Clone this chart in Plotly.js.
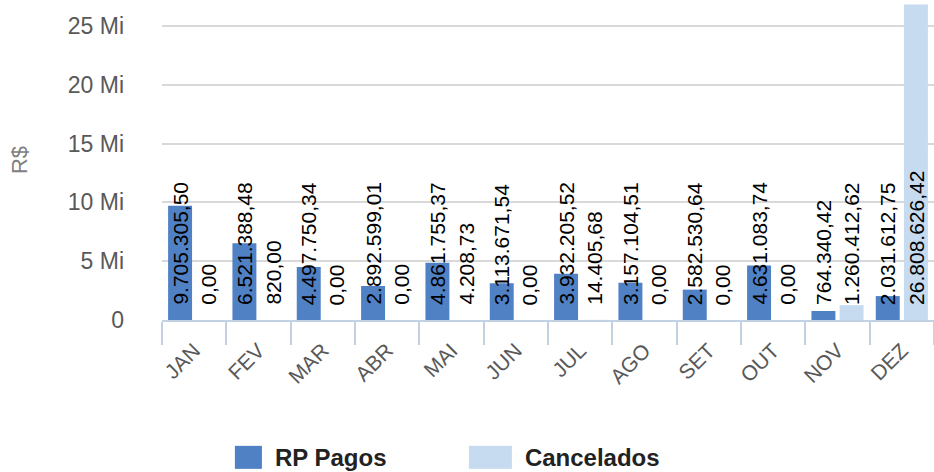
<!DOCTYPE html>
<html>
<head>
<meta charset="utf-8">
<script src="https://cdn.plot.ly/plotly-3.0.1.min.js"></script>
<style>html,body{margin:0;padding:0;background:#fff;}#chart{width:934px;height:472px;}</style>
</head>
<body>
<div id="chart"></div>
<script>
const months = ["JAN","FEV","MAR","ABR","MAI","JUN","JUL","AGO","SET","OUT","NOV","DEZ"];
const rpPagos = [9705305.50, 6521388.48, 4497750.34, 2892599.01, 4861755.37, 3113671.54, 3932205.52, 3157104.51, 2582530.64, 4631083.74, 764340.42, 2031612.75];
const cancelados = [0, 820.00, 0, 0, 4208.73, 0, 14405.68, 0, 0, 0, 1260412.62, 26808626.42];
const yTickVals = [0, 5000000, 10000000, 15000000, 20000000, 25000000];
const yTickText = ["0", "5 Mi", "10 Mi", "15 Mi", "20 Mi", "25 Mi"];

function fmtBR(v) {
  const parts = v.toFixed(2).split(".");
  parts[0] = parts[0].replace(/\B(?=(\d{3})+(?!\d))/g, ".");
  return parts[0] + "," + parts[1];
}

const bargap = 0.124;
const off = (1 - bargap) / 4;
const FONT = "Liberation Sans, Arial, sans-serif";

const annotations = [];
months.forEach((m, i) => {
  annotations.push({x: i - off, y: 0, xref: "x", yref: "y", text: fmtBR(rpPagos[i]), textangle: -90,
    showarrow: false, yanchor: "bottom", xanchor: "center", yshift: 13, font: {family: FONT, size: 21, color: "#000"}});
  annotations.push({x: i + off, y: 0, xref: "x", yref: "y", text: fmtBR(cancelados[i]), textangle: -90,
    showarrow: false, yanchor: "bottom", xanchor: "center", yshift: 13, font: {family: FONT, size: 21, color: "#000"}});
});

const data = [
  {type: "bar", name: "RP Pagos", x: months, y: rpPagos, marker: {color: "#4f81c4"}, hoverinfo: "skip"},
  {type: "bar", name: "Cancelados", x: months, y: cancelados, marker: {color: "#c6dbf0"}, hoverinfo: "skip"}
];

const layout = {
  width: 934, height: 472,
  margin: {l: 162, r: 0, t: 0, b: 152},
  paper_bgcolor: "#fff", plot_bgcolor: "#fff",
  barmode: "group", bargap: bargap, bargroupgap: 0.15,
  font: {family: FONT, size: 20, color: "#595959"},
  xaxis: {
    type: "category", tickangle: -45, tickson: "boundaries", ticks: "outside", ticklen: 23, tickwidth: 2,
    tickcolor: "#c3d2e3", showline: true, linecolor: "#c3d2e3", linewidth: 2, showgrid: false,
    ticklabelstandoff: 8,
    tickfont: {family: FONT, size: 21, color: "#595959"}
  },
  yaxis: {
    range: [0, 27200000], tickvals: yTickVals, ticktext: yTickText, showgrid: true, gridcolor: "#d9d9d9", gridwidth: 2,
    zeroline: false, showline: false, ticks: "", ticklabelstandoff: 37,
    tickfont: {family: FONT, size: 23, color: "#595959"},
    title: {text: "R$", font: {family: FONT, size: 22, color: "#7f7f7f"}, standoff: 34}
  },
  legend: {orientation: "h", xref: "container", yref: "container", x: 0.2515, xanchor: "left", y: 0.032, yanchor: "middle",
    font: {family: FONT, size: 24, color: "#222", weight: "bold"}, entrywidth: 205, entrywidthmode: "pixels"},
  annotations: annotations,
  showlegend: true
};

Plotly.newPlot("chart", data, layout, {staticPlot: true, displayModeBar: false}).then(() => {
  // enlarge legend swatches to match the reference style
  document.querySelectorAll(".legend .traces").forEach(tr => {
    const txt = tr.querySelector(".legendtext");
    const pts = tr.querySelectorAll(".legendpoints path");
    if (!txt || !pts.length) return;
    const bb = txt.getBBox();
    const fill = getComputedStyle(pts[0]).fill || pts[0].style.fill;
    pts.forEach(p => p.style.opacity = 0);
    const r = document.createElementNS("http://www.w3.org/2000/svg", "rect");
    r.setAttribute("x", bb.x - 56);
    r.setAttribute("y", bb.y + bb.height / 2 - 11.5);
    r.setAttribute("width", 43);
    r.setAttribute("height", 23);
    r.style.fill = fill;
    tr.appendChild(r);
  });
});
</script>
</body>
</html>
